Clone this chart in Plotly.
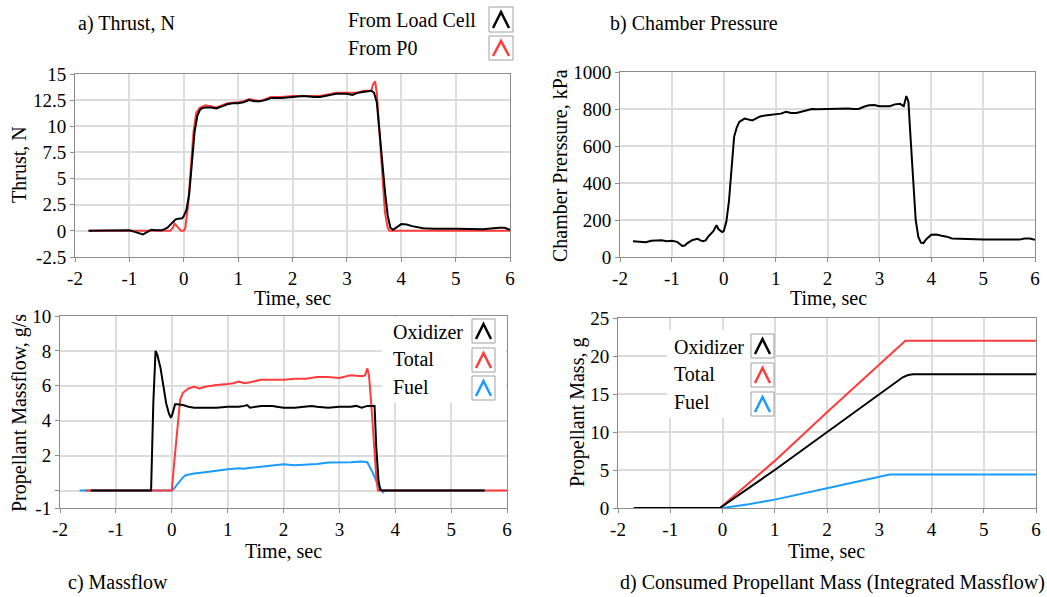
import plotly.graph_objects as go

W, H = 1047, 597
FONT = "Liberation Serif"
BLACK = "#000000"
RED = "#ff3b3b"
BLUE = "#1a9bff"

# ---------------- a) Thrust ----------------
t_loadcell = [-1.75, -1.5, -1.2, -1.0, -0.9, -0.8, -0.75, -0.7, -0.6, -0.5, -0.4, -0.3, -0.2, -0.15, -0.1,
              -0.03, 0.0, 0.05, 0.1, 0.15, 0.2, 0.25, 0.3, 0.35, 0.4, 0.5, 0.6, 0.7, 0.8, 0.9, 1.0, 1.1, 1.2,
              1.3, 1.4, 1.5, 1.6, 1.8, 2.0, 2.2, 2.4, 2.5, 2.6, 2.8, 3.0, 3.1, 3.2, 3.3, 3.45, 3.5, 3.55, 3.6,
              3.65, 3.7, 3.75, 3.8, 3.85, 3.9, 4.0, 4.1, 4.2, 4.4, 4.6, 5.0, 5.5, 5.8, 5.9, 6.0]
thrust_loadcell = [0, 0, 0.05, 0.05, -0.1, -0.3, -0.35, -0.2, 0.1, 0.05, 0.05, 0.3, 0.8, 1.1, 1.15,
                   1.2, 1.4, 2.0, 3.5, 6.5, 9.5, 11.0, 11.6, 11.75, 11.8, 11.8, 11.7, 11.9, 12.1, 12.2, 12.2, 12.3, 12.5,
                   12.4, 12.4, 12.5, 12.7, 12.7, 12.8, 12.9, 12.8, 12.8, 12.9, 13.1, 13.1, 13.0, 13.2, 13.3, 13.4, 13.2, 12.3, 9.5,
                   6.5, 3.8, 1.5, 0.3, 0.1, 0.3, 0.65, 0.6, 0.45, 0.25, 0.2, 0.2, 0.15, 0.3, 0.3, 0.1]
t_p0 = [-1.75, -0.25, -0.2, -0.17, -0.12, -0.05, 0.0, 0.03, 0.08, 0.13, 0.18, 0.23, 0.3, 0.4, 0.5, 0.6, 0.7,
        0.8, 1.0, 1.1, 1.2, 1.3, 1.4, 1.6, 1.8, 2.0, 2.2, 2.5, 2.7, 2.8, 3.0, 3.2, 3.3, 3.45, 3.48, 3.52, 3.55,
        3.6, 3.65, 3.7, 3.75, 3.78, 6.0]
thrust_p0 = [0, 0, 0.3, 0.7, 0.4, 0, 0, 0.3, 2.5, 6.0, 9.5, 11.3, 11.8, 12.0, 11.9, 11.8, 12.0,
             12.2, 12.3, 12.4, 12.6, 12.5, 12.4, 12.8, 12.8, 12.9, 12.9, 12.9, 13.1, 13.2, 13.2, 13.2, 13.4, 13.4, 14.0, 14.3, 13.2,
             9.5, 5.0, 1.8, 0.3, 0, 0]

# ---------------- b) Chamber pressure ----------------
t_pc = [-1.75, -1.6, -1.5, -1.4, -1.2, -1.1, -1.0, -0.9, -0.85, -0.8, -0.75, -0.7, -0.6, -0.5, -0.45, -0.4,
        -0.35, -0.3, -0.2, -0.14, -0.1, -0.03, 0.0, 0.05, 0.1, 0.15, 0.2, 0.25, 0.3, 0.4, 0.5, 0.55, 0.6, 0.7,
        0.8, 0.9, 1.0, 1.1, 1.2, 1.3, 1.4, 1.5, 1.6, 1.7, 1.8, 2.0, 2.2, 2.4, 2.5, 2.6, 2.7, 2.8, 2.9, 3.0,
        3.2, 3.3, 3.4, 3.47, 3.52, 3.56, 3.6, 3.65, 3.7, 3.75, 3.8, 3.85, 3.9, 4.0, 4.1, 4.2, 4.3, 4.4,
        4.6, 4.8, 5.0, 5.2, 5.5, 5.7, 5.8, 5.9, 6.0]
pressure_kpa = [85, 83, 80, 88, 90, 85, 88, 82, 70, 60, 62, 75, 92, 98, 90, 85,
                90, 110, 140, 172, 150, 135, 140, 190, 300, 500, 650, 700, 730, 748, 740, 738, 745, 760,
                765, 768, 770, 775, 785, 778, 778, 785, 795, 800, 798, 800, 802, 803, 800, 800, 812, 820, 822, 815,
                815, 825, 828, 815, 870, 840, 650, 420, 200, 110, 78, 75, 95, 120, 122, 115, 110, 100,
                97, 97, 95, 95, 96, 94, 100, 100, 93]

# ---------------- c) Massflow ----------------
t_ox = [-1.45, -0.37, -0.33, -0.29, -0.26, -0.2, -0.15, -0.1, -0.05, -0.02, 0.0, 0.03, 0.06, 0.1, 0.2, 0.3,
        0.4, 0.5, 0.6, 0.8, 1.0, 1.2, 1.3, 1.35, 1.4, 1.6, 1.8, 2.0, 2.2, 2.5, 2.6, 2.8, 3.0, 3.2, 3.3, 3.4,
        3.5, 3.63, 3.66, 3.7, 3.73, 3.76, 5.6]
mdot_ox = [0, 0, 5.0, 8.0, 7.8, 7.0, 6.0, 5.0, 4.4, 4.2, 4.25, 4.7, 4.95, 4.95, 4.9, 4.8,
           4.75, 4.75, 4.75, 4.75, 4.8, 4.8, 4.85, 4.9, 4.75, 4.85, 4.85, 4.75, 4.75, 4.85, 4.8, 4.75, 4.8, 4.8, 4.85, 4.75,
           4.85, 4.85, 2.5, 0.6, 0.05, 0, 0]
t_tot = [-1.55, 0.0, 0.05, 0.1, 0.15, 0.2, 0.3, 0.4, 0.5, 0.6, 0.8, 1.0, 1.1, 1.2, 1.3, 1.4, 1.6, 1.8, 2.0,
         2.2, 2.4, 2.6, 2.8, 3.0, 3.2, 3.4, 3.46, 3.5, 3.53, 3.57, 3.62, 3.66, 3.69, 6.0]
mdot_tot = [0, 0, 1.8, 3.7, 5.2, 5.6, 5.85, 5.95, 5.85, 5.95, 6.05, 6.1, 6.15, 6.25, 6.15, 6.2, 6.35, 6.35, 6.35,
            6.4, 6.4, 6.5, 6.5, 6.45, 6.6, 6.55, 6.6, 7.0, 6.6, 5.0, 2.5, 0.8, 0, 0]
t_fuel = [-1.65, 0.0, 0.05, 0.1, 0.2, 0.25, 0.3, 0.4, 0.6, 0.8, 1.0, 1.2, 1.3, 1.4, 1.6, 1.8, 2.0, 2.2, 2.4,
          2.6, 2.8, 3.0, 3.2, 3.4, 3.5, 3.6, 3.68, 3.78, 3.82, 5.6]
mdot_fuel = [0, 0, 0.15, 0.35, 0.75, 0.88, 0.92, 0.97, 1.05, 1.15, 1.22, 1.28, 1.25, 1.3, 1.38, 1.42, 1.5, 1.45, 1.48,
             1.52, 1.6, 1.6, 1.62, 1.66, 1.62, 1.0, 0.4, -0.1, 0, 0]

# ---------------- d) Integrated mass ----------------
t_mox = [-1.7, -0.05, 1.0, 2.0, 3.0, 3.35, 3.45, 3.55, 3.65, 6.0]
mass_ox = [0, 0, 5.0, 10.0, 15.0, 16.7, 17.2, 17.5, 17.6, 17.6]
t_mtot = [-0.05, 1.0, 2.0, 3.0, 3.5, 6.0]
mass_tot = [0, 6.2, 12.6, 18.9, 22.0, 22.0]
t_mfuel = [0.0, 0.5, 1.0, 1.5, 2.0, 2.5, 3.0, 3.2, 6.0]
mass_fuel = [0, 0.5, 1.1, 1.8, 2.6, 3.35, 4.1, 4.4, 4.4]

# ---------------- tick labels ----------------
time_ticks = [-2, -1, 0, 1, 2, 3, 4, 5, 6]
time_ticktext = ["-2", "-1", "0", "1", "2", "3", "4", "5", "6"]
thrust_ticks = [-2.5, 0, 2.5, 5, 7.5, 10, 12.5, 15]
thrust_ticktext = ["-2.5", "0", "2.5", "5", "7.5", "10", "12.5", "15"]
pressure_ticks = [0, 200, 400, 600, 800, 1000]
pressure_ticktext = ["0", "200", "400", "600", "800", "1000"]
mdot_ticks = [-1, 0, 2, 4, 6, 8, 10]
mdot_ticktext = ["-1", "", "2", "4", "6", "8", "10"]
mass_ticks = [0, 5, 10, 15, 20, 25]
mass_ticktext = ["0", "5", "10", "15", "20", "25"]

for a, b in [(t_loadcell, thrust_loadcell), (t_p0, thrust_p0), (t_pc, pressure_kpa), (t_ox, mdot_ox),
             (t_tot, mdot_tot), (t_fuel, mdot_fuel), (t_mox, mass_ox), (t_mtot, mass_tot), (t_mfuel, mass_fuel)]:
    assert len(a) == len(b), (len(a), len(b))


def X(px):
    return px / W


def Y(py):
    return 1 - py / H


fig = go.Figure()


def line(x, y, color, xa, ya, width=2):
    fig.add_trace(go.Scatter(x=x, y=y, mode="lines", line=dict(color=color, width=width),
                             xaxis=xa, yaxis=ya, showlegend=False, hoverinfo="skip"))


line(t_p0, thrust_p0, RED, "x", "y")
line(t_loadcell, thrust_loadcell, BLACK, "x", "y")
line(t_pc, pressure_kpa, BLACK, "x2", "y2")
line(t_fuel, mdot_fuel, BLUE, "x3", "y3")
line(t_tot, mdot_tot, RED, "x3", "y3")
line(t_ox, mdot_ox, BLACK, "x3", "y3")
line(t_mfuel, mass_fuel, BLUE, "x4", "y4")
line(t_mtot, mass_tot, RED, "x4", "y4")
line(t_mox, mass_ox, BLACK, "x4", "y4")

axis_style = dict(showgrid=True, gridcolor="#dcdcdc", gridwidth=1.5, showline=True, linecolor="#8c8c8c",
                  linewidth=1, mirror=True, ticks="outside", ticklen=4, tickcolor="#8c8c8c", tickwidth=1,
                  zeroline=False, automargin=False,
                  tickfont=dict(family=FONT, size=19, color="black"))


def xaxis(dom, anchor):
    d = dict(axis_style)
    d.update(domain=[X(dom[0]), X(dom[1])], range=[-2, 6], tickvals=time_ticks, ticktext=time_ticktext,
             anchor=anchor)
    return d


def yaxis(dom, anchor, rng, ticks, text):
    d = dict(axis_style)
    d.update(domain=[Y(dom[1]), Y(dom[0])], range=rng, tickvals=ticks, ticktext=text, anchor=anchor)
    return d


fig.update_layout(
    template="none",
    width=W, height=H, margin=dict(l=0, r=0, t=0, b=0, pad=0, autoexpand=False),
    paper_bgcolor="white", plot_bgcolor="white",
    xaxis=xaxis((75, 510), "y"),
    yaxis=yaxis((74, 257), "x", [-2.5, 15], thrust_ticks, thrust_ticktext),
    xaxis2=xaxis((620, 1035), "y2"),
    yaxis2=yaxis((72, 257), "x2", [0, 1000], pressure_ticks, pressure_ticktext),
    xaxis3=xaxis((60, 507), "y3"),
    yaxis3=yaxis((316, 508), "x3", [-1, 10], mdot_ticks, mdot_ticktext),
    xaxis4=xaxis((618, 1036), "y4"),
    yaxis4=yaxis((318, 508), "x4", [0, 25], mass_ticks, mass_ticktext),
    showlegend=False,
)

annotations = []
shapes = []


def text(px, py, s, xanchor="left", angle=0, size=20):
    annotations.append(dict(x=X(px), y=Y(py), xref="paper", yref="paper", text=s, showarrow=False,
                            xanchor=xanchor, yanchor="middle", textangle=angle, borderpad=0,
                            font=dict(family=FONT, size=size, color="black")))


# panel titles
text(77, 23, "a) Thrust, N")
text(609, 23, "b) Chamber Pressure")
text(67, 582, "c) Massflow")
text(619, 582, "d) Consumed Propellant Mass (Integrated Massflow)")

# axis titles
text(292, 298, "Time, sec", "center")
text(828, 298, "Time, sec", "center")
text(283, 551, "Time, sec", "center")
text(826, 551, "Time, sec", "center")
text(19, 165, "Thrust, N", "center", -90)
text(560, 166, "Chamber Prerssure, kPa", "center", -90)
text(19, 413, "Propellant Massflow, g/s", "center", -90)
text(577, 413, "Propellant Mass, g", "center", -90)


def rect(x0, y0, x1, y1, fill, line_color=None):
    shapes.append(dict(type="rect", xref="paper", yref="paper", x0=X(x0), x1=X(x1), y0=Y(y1), y1=Y(y0),
                       fillcolor=fill, line=dict(color=line_color or fill, width=1 if line_color else 0),
                       layer="above"))


def legend_entry(label, tx, ty, bx0, by0, bx1, by1, color):
    text(tx, ty, label)
    rect(bx0, by0, bx1, by1, "white", "#a0a0a0")
    xm = (bx0 + bx1) / 2
    path = "M {} {} L {} {} L {} {}".format(X(bx0 + 4), Y(by1 - 4), X(xm), Y(by0 + 5), X(bx1 - 4), Y(by1 - 4))
    shapes.append(dict(type="path", xref="paper", yref="paper", path=path,
                       line=dict(color=color, width=2.5), layer="above"))


# legend a
legend_entry("From Load Cell", 347, 20, 489, 7, 513, 32, BLACK)
legend_entry("From P0", 347, 48, 489, 36, 513, 60, RED)

# legend c
rect(382, 317, 506, 403, "white")
legend_entry("Oxidizer", 392, 332, 472, 319, 495, 343, BLACK)
legend_entry("Total", 392, 359, 472, 348, 495, 372, RED)
legend_entry("Fuel", 392, 387, 472, 376, 495, 400, BLUE)

# legend d
rect(667, 330, 751, 418, "white")
legend_entry("Oxidizer", 673, 347, 751, 334, 774, 358, BLACK)
legend_entry("Total", 673, 374, 751, 363, 774, 387, RED)
legend_entry("Fuel", 673, 402, 751, 392, 774, 416, BLUE)

fig.update_layout(annotations=annotations, shapes=shapes)
fig.write_html("out.html")
